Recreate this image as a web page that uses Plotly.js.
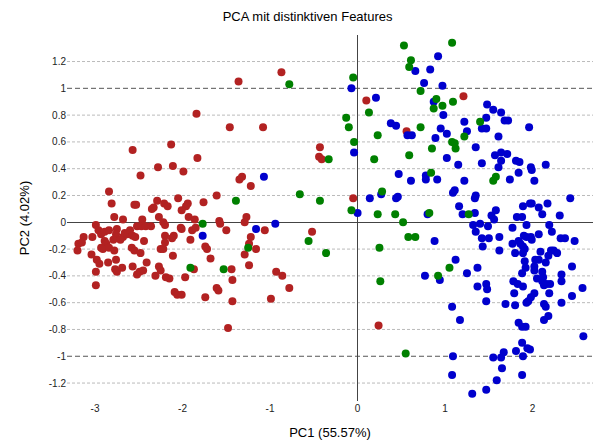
<!DOCTYPE html>
<html>
<head>
<meta charset="utf-8">
<script src="https://cdn.plot.ly/plotly-3.0.1.min.js"></script>
<style>html,body{margin:0;padding:0;background:#fff}#chart{width:595px;height:446px}</style>
</head>
<body>
<div id="chart"></div>
<script>
// Group 1 (red)
const redPC1 = [-1.36,-1.84,-1.46,-2.57,-2.13,-1.83,-2.28,-2.11,-1.99,-2.48,-1.32,-1.35,-2.84,-2.81,-2.55,-2.53,-2.29,-2.35,-2.33,-2.21,-2.17,-2.05,-1.94,-1.96,-2.01,-1.76,-1.61,-1.22,-0.87,0.10,-1.08,0.56,-0.43,-0.44,-0.41,-0.05,1.21,0.24,-2.78,-2.68,-2.46,-2.27,-2.22,-2.20,-1.93,-1.86,-1.58,-1.57,-1.27,-1.29,-2.99,-2.96,-2.93,-2.89,-2.84,-2.75,-2.76,-2.79,-2.68,-2.71,-2.66,-2.63,-2.60,-2.57,-2.54,-2.52,-2.47,-2.42,-2.36,-2.44,-3.03,-3.13,-3.19,-3.15,-3.20,-2.89,-2.87,-2.93,-2.91,-2.84,-2.78,-2.58,-2.55,-2.48,-2.25,-2.22,-2.10,-2.12,-2.20,-2.20,-2.02,-2.01,-1.91,-1.89,-1.85,-1.74,-1.72,-1.68,-1.50,-1.29,-1.24,-3.04,-2.98,-2.95,-2.85,-2.76,-2.99,-2.99,-2.77,-2.75,-2.69,-2.57,-2.52,-2.49,-2.45,-2.41,-2.27,-2.25,-2.31,-2.19,-2.15,-2.11,-1.97,-1.87,-1.44,-1.43,-1.61,-1.59,-2.09,-2.06,-2.01,-1.74,-1.43,-1.48,-1.06,-1.22,-1.24,-1.16,-0.93,-0.86,-0.78,-0.99,-0.52];
const redPC2 = [1.05,0.81,0.71,0.54,0.58,0.48,0.41,0.42,0.38,0.35,0.34,0.32,0.23,0.14,0.13,0.13,0.16,0.10,0.11,0.14,0.12,0.18,0.14,0.12,0.09,0.15,0.20,0.27,1.12,0.91,0.71,0.68,0.56,0.49,0.47,0.18,0.94,-0.77,0.04,0.02,0.02,0.04,0.00,-0.02,0.04,0.02,0.01,-0.01,0.04,0.00,-0.02,-0.06,-0.09,-0.07,-0.06,-0.05,-0.09,-0.13,-0.11,-0.13,-0.08,-0.09,-0.06,-0.10,-0.11,-0.03,-0.03,-0.03,-0.03,-0.14,-0.11,-0.11,-0.16,-0.15,-0.21,-0.14,-0.16,-0.19,-0.20,-0.19,-0.21,-0.19,-0.21,-0.23,-0.20,-0.20,-0.10,-0.12,-0.10,-0.15,-0.04,-0.05,-0.13,-0.06,-0.04,-0.18,-0.20,-0.27,-0.06,-0.24,-0.32,-0.24,-0.28,-0.31,-0.30,-0.28,-0.37,-0.47,-0.35,-0.37,-0.34,-0.33,-0.39,-0.37,-0.36,-0.30,-0.33,-0.36,-0.40,-0.41,-0.42,-0.25,-0.41,-0.35,-0.35,-0.43,-0.49,-0.51,-0.52,-0.54,-0.54,-0.56,-0.59,-0.79,-0.06,-0.11,-0.16,-0.20,-0.37,-0.40,-0.49,-0.57,-0.07];

// Group 2 (green)
const greenPC1 = [-1.39,-1.77,-1.91,-1.53,-1.25,-0.78,0.53,0.61,0.59,-0.05,0.13,-0.13,-0.10,0.23,-0.04,-0.33,0.19,0.59,-0.66,-0.43,0.28,-0.07,0.23,0.43,0.52,0.58,0.66,0.25,0.26,0.55,-0.56,-0.36,1.08,0.72,0.90,0.97,0.87,1.09,1.40,0.72,1.22,1.08,1.11,1.12,0.85,1.55,1.58,0.84,0.82,1.27,1.05,0.92];
const greenPC2 = [0.16,-0.01,-0.34,-0.35,-0.19,1.03,1.32,1.21,1.16,1.08,0.82,0.78,0.71,0.65,0.60,0.47,0.47,0.50,0.21,0.16,0.23,0.09,0.06,0.06,0.00,-0.11,-0.11,-0.19,-0.44,-0.98,-0.14,-0.23,1.34,0.98,0.92,0.87,0.85,0.90,0.75,0.71,0.64,0.60,0.59,0.55,0.55,0.31,0.34,0.37,0.07,0.06,-0.34,-0.40];

// Group 3 (blue)
const bluePC1 = [-1.77,-1.07,-1.16,-0.94,-0.07,0.21,0.38,0.44,0.57,0.62,-0.04,0.47,0.61,0.14,0.27,0.44,0.46,0.00,0.66,0.92,0.83,0.76,0.97,0.87,0.98,1.48,1.55,1.64,1.47,1.68,1.72,1.22,1.96,0.95,1.25,1.42,1.47,1.02,1.61,0.89,1.35,1.02,1.15,1.42,1.57,1.64,1.71,1.64,1.81,1.85,1.61,1.98,1.99,2.15,1.84,2.02,1.74,0.78,0.78,0.91,1.22,1.09,1.11,1.35,1.34,2.43,1.16,1.97,1.99,2.07,2.17,1.89,1.58,0.80,1.20,1.34,1.53,1.56,1.82,1.88,2.11,2.31,1.32,1.40,1.49,1.35,1.42,1.50,1.43,1.62,1.62,1.77,1.93,2.19,2.22,2.07,1.90,1.93,1.98,1.99,1.77,1.84,1.86,1.89,1.91,2.32,2.37,2.48,0.88,1.80,1.89,2.09,2.21,2.24,2.28,2.18,2.15,2.07,2.03,1.91,1.92,2.02,2.02,2.11,2.12,2.05,1.88,1.12,1.37,1.25,0.77,0.94,2.45,2.33,2.33,1.78,1.83,1.89,2.11,2.13,2.16,2.20,1.37,1.47,1.48,1.79,2.02,1.98,1.95,1.93,2.19,2.45,2.57,1.47,1.69,1.80,2.13,2.15,2.33,1.08,1.17,2.18,2.13,1.84,1.88,1.92,2.58,1.88,1.81,1.94,1.97,1.67,1.09,1.55,1.64,1.89,1.65,1.08,1.88,1.59,1.31,1.47];
const bluePC2 = [-0.10,0.34,-0.05,-0.01,1.00,0.93,0.74,0.72,0.65,0.65,0.52,0.36,0.31,0.18,0.21,0.18,0.19,0.07,1.13,1.24,1.14,1.04,1.02,0.90,0.80,0.88,0.84,0.82,0.78,0.76,0.76,0.75,0.71,0.70,0.68,0.70,0.70,0.66,0.64,0.63,0.56,0.48,0.43,0.44,0.50,0.52,0.51,0.46,0.46,0.45,0.41,0.41,0.39,0.43,0.37,0.31,0.32,0.35,0.32,0.32,0.31,0.22,0.24,0.20,0.18,0.18,0.12,0.14,0.14,0.11,0.14,0.12,0.09,0.06,0.06,0.07,0.05,0.02,0.04,0.04,0.06,0.05,-0.02,-0.01,-0.03,-0.07,-0.12,-0.12,-0.18,-0.11,-0.21,-0.04,-0.02,-0.02,-0.07,-0.09,-0.10,-0.11,-0.11,-0.13,-0.16,-0.14,-0.16,-0.18,-0.20,-0.12,-0.12,-0.14,-0.14,-0.23,-0.23,-0.22,-0.21,-0.21,-0.23,-0.25,-0.30,-0.28,-0.28,-0.29,-0.34,-0.33,-0.36,-0.37,-0.41,-0.42,-0.38,-0.28,-0.34,-0.38,-0.40,-0.43,-0.33,-0.39,-0.44,-0.44,-0.46,-0.48,-0.44,-0.47,-0.46,-0.46,-0.48,-0.46,-0.50,-0.53,-0.53,-0.56,-0.59,-0.60,-0.53,-0.55,-0.49,-0.59,-0.61,-0.62,-0.61,-0.63,-0.60,-0.63,-0.73,-0.70,-0.73,-0.75,-0.78,-0.78,-0.85,-0.90,-0.96,-0.94,-0.95,-0.97,-1.00,-1.01,-1.01,-1.00,-1.09,-1.14,-1.14,-1.18,-1.28,-1.25];

const yTickVals = [-1.2,-1,-0.8,-0.6,-0.4,-0.2,0,0.2,0.4,0.6,0.8,1,1.2];
const yTickText = ['-1.2','-1','-0.8','-0.6','-0.4','-0.2','0','0.2','0.4','0.6','0.8','1','1.2'];
const xTickVals = [-3,-2,-1,0,1,2];
const xTickText = ['-3','-2','-1','0','1','2'];
const strongGrid = [-1,1];

const FONT = 'Liberation Sans, Arial, sans-serif';

function tr(x, y, color){
  return {x:x, y:y, type:'scatter', mode:'markers', hoverinfo:'skip',
    marker:{color:color, size:8, line:{width:0}}};
}
const data = [
  tr(redPC1, redPC2, '#B22222'),
  tr(bluePC1, bluePC2, '#0000CD'),
  tr(greenPC1, greenPC2, '#008000')
];

const shapes = [];
yTickVals.forEach(v => {
  if (v === 0) return;
  const strong = strongGrid.indexOf(v) >= 0;
  shapes.push({type:'line', xref:'paper', x0:0, x1:1, yref:'y', y0:v, y1:v, layer:'below',
    line:{color: strong ? '#555555' : '#BBBBBB', width:1, dash: strong ? '5px,3px' : '3px,2px'}});
});

const layout = {
  width:595, height:446,
  margin:{l:67, r:2, t:35, b:45},
  paper_bgcolor:'#fff', plot_bgcolor:'#fff',
  showlegend:false, hovermode:false,
  font:{family:FONT, color:'#000'},
  title:{text:'PCA mit distinktiven Features', font:{family:FONT, size:13, color:'#000'},
    xref:'container', x:0.517, xanchor:'center', yref:'container', y:0.962, yanchor:'middle'},
  xaxis:{range:[-3.32,2.69], tickvals:xTickVals, ticktext:xTickText, showgrid:false,
    zeroline:true, zerolinecolor:'#444', zerolinewidth:1, showline:false, ticks:'',
    tickfont:{family:FONT, size:10, color:'#222'},
    title:{text:'PC1 (55.57%)', font:{family:FONT, size:13, color:'#000'}, standoff:14}},
  yaxis:{range:[-1.334,1.398], tickvals:yTickVals, ticktext:yTickText, showgrid:false,
    zeroline:true, zerolinecolor:'#444', zerolinewidth:1, showline:false, ticks:'',
    tickfont:{family:FONT, size:10, color:'#222'},
    title:{text:'PC2 (4.02%)', font:{family:FONT, size:13, color:'#000'}, standoff:16}},
  shapes: shapes
};

Plotly.newPlot('chart', data, layout, {staticPlot:true, displayModeBar:false});
</script>
</body>
</html>
